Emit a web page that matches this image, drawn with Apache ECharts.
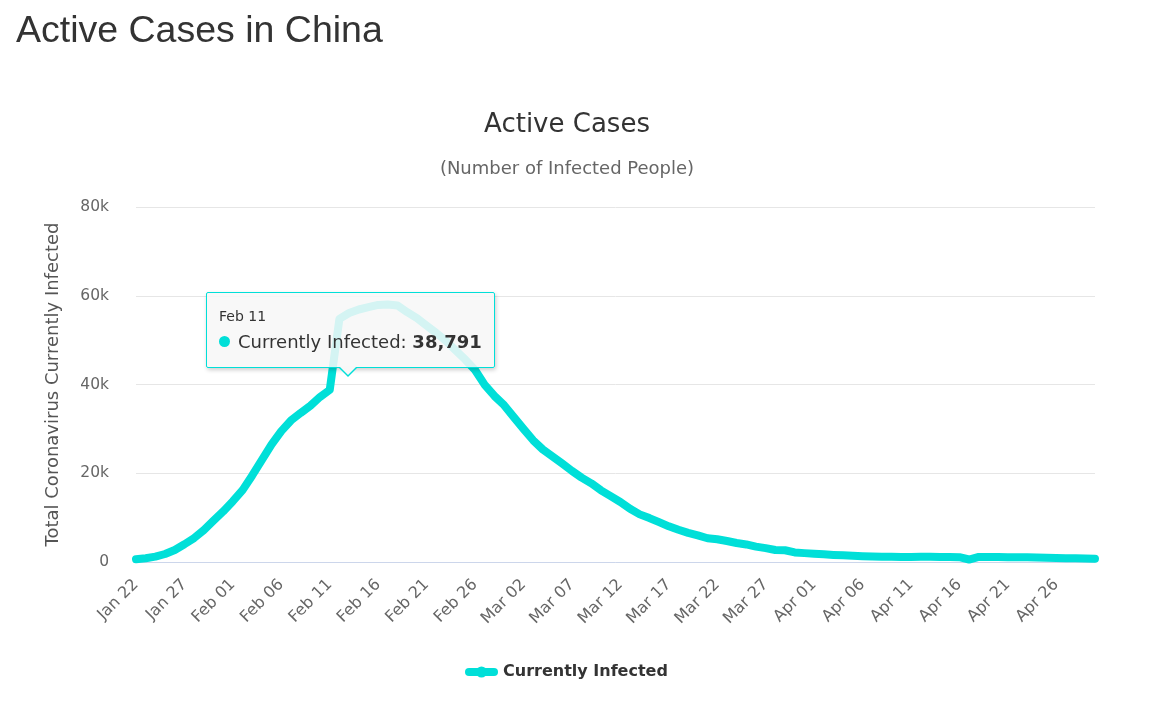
<!DOCTYPE html>
<html>
<head>
<meta charset="utf-8">
<title>Active Cases in China</title>
<script src="https://cdn.jsdelivr.net/npm/echarts@6/dist/echarts.min.js"></script>
<style>
    html, body { margin: 0; padding: 0; background: #fff; }
    #chart { width: 1164px; height: 701px; }
    .tip::before {
        content: '';
        position: absolute;
        left: 131px;
        bottom: -10px;
        border-left: 10px solid transparent;
        border-right: 10px solid transparent;
        border-top: 10px solid #00dfd8;
    }
    .tip::after {
        content: '';
        position: absolute;
        left: 132px;
        bottom: -8px;
        border-left: 9px solid transparent;
        border-right: 9px solid transparent;
        border-top: 9px solid #f7f7f7;
    }
</style>
</head>
<body>
<div id="chart"></div>
<script>
const dates = [
    'Jan 22', 'Jan 23', 'Jan 24', 'Jan 25', 'Jan 26', 'Jan 27', 'Jan 28', 'Jan 29', 'Jan 30', 'Jan 31',
    'Feb 01', 'Feb 02', 'Feb 03', 'Feb 04', 'Feb 05', 'Feb 06', 'Feb 07', 'Feb 08', 'Feb 09', 'Feb 10',
    'Feb 11', 'Feb 12', 'Feb 13', 'Feb 14', 'Feb 15', 'Feb 16', 'Feb 17', 'Feb 18', 'Feb 19', 'Feb 20',
    'Feb 21', 'Feb 22', 'Feb 23', 'Feb 24', 'Feb 25', 'Feb 26', 'Feb 27', 'Feb 28', 'Feb 29',
    'Mar 01', 'Mar 02', 'Mar 03', 'Mar 04', 'Mar 05', 'Mar 06', 'Mar 07', 'Mar 08', 'Mar 09', 'Mar 10',
    'Mar 11', 'Mar 12', 'Mar 13', 'Mar 14', 'Mar 15', 'Mar 16', 'Mar 17', 'Mar 18', 'Mar 19', 'Mar 20',
    'Mar 21', 'Mar 22', 'Mar 23', 'Mar 24', 'Mar 25', 'Mar 26', 'Mar 27', 'Mar 28', 'Mar 29', 'Mar 30', 'Mar 31',
    'Apr 01', 'Apr 02', 'Apr 03', 'Apr 04', 'Apr 05', 'Apr 06', 'Apr 07', 'Apr 08', 'Apr 09', 'Apr 10',
    'Apr 11', 'Apr 12', 'Apr 13', 'Apr 14', 'Apr 15', 'Apr 16', 'Apr 17', 'Apr 18', 'Apr 19', 'Apr 20',
    'Apr 21', 'Apr 22', 'Apr 23', 'Apr 24', 'Apr 25', 'Apr 26', 'Apr 27', 'Apr 28', 'Apr 29', 'Apr 30'
]

// currently infected, one value per day
const janActive = [600, 850, 1200, 1800, 2700, 4000, 5400, 7200, 9300, 11400]
const febActive = [
    13700, 16200, 19500, 23000, 26500, 29500, 31900, 33600, 35200, 37200,
    38791, 54800, 56100, 56900, 57420, 57930, 58020, 57810, 56300, 54970,
    53280, 51610, 49820, 47670, 45600, 43260, 39920, 37410, 35330
]
const marActive = [
    32650, 30000, 27430, 25350, 23780, 22180, 20530, 19020, 17720, 16150,
    14830, 13530, 11980, 10730, 9900, 8980, 8040, 7260, 6570, 6010,
    5350, 5120, 4740, 4290, 3950, 3460, 3130, 2700, 2650, 2160, 2000
]
const aprActive = [
    1860, 1730, 1600, 1500, 1400, 1300, 1240, 1190, 1160, 1130,
    1140, 1160, 1160, 1140, 1110, 1080, 560, 1130, 1120, 1100,
    1080, 1070, 1050, 1000, 960, 900, 860, 820, 790, 760
]
const active = [...janActive, ...febActive, ...marActive, ...aprActive]

const yTicks = [0, 20000, 40000, 60000, 80000]
const tipDay = 'Feb 11'

const lineColor = '#00dfd8'
const font = 'DejaVu Sans'

const chart = echarts.init(document.getElementById('chart'))

const option = {
    animation: false,
    title: [
        {
            text: 'Active Cases in China',
            left: 11,
            top: 8,
            textStyle: { fontFamily: 'Liberation Sans', fontSize: 37.5, fontWeight: 'normal', color: '#333' },
        },
        {
            text: 'Active Cases',
            subtext: '(Number of Infected People)',
            left: 562,
            top: 107,
            textAlign: 'center',
            itemGap: 22,
            textStyle: { fontFamily: font, fontSize: 26, fontWeight: 'normal', color: '#333' },
            subtextStyle: { fontFamily: font, fontSize: 18, color: '#666' },
        },
    ],
    legend: {
        bottom: 16,
        left: 460,
        itemWidth: 25,
        itemHeight: 14,
        lineStyle: { width: 8 },
        textStyle: { fontFamily: font, fontSize: 16, fontWeight: 'bold', color: '#333', padding: [0, 0, 0, 4] },
    },
    tooltip: {
        trigger: 'axis',
        axisPointer: { type: 'none' },
        triggerOn: 'none',
        alwaysShowContent: true,
        className: 'tip',
        backgroundColor: 'rgba(247,247,247,0.86)',
        borderColor: lineColor,
        borderWidth: 1,
        borderRadius: 2,
        padding: [12, 12, 10, 12],
        extraCssText: 'box-shadow: 1px 2px 4px rgba(0,0,0,0.2);',
        position: function () {
            return [206, 292]
        },
        formatter: function (params) {
            const p = params[0]
            return '<div style="font-family:DejaVu Sans;font-size:14px;color:#333;line-height:22px">' + p.name + '</div>'
                + '<div style="font-family:DejaVu Sans;font-size:18px;color:#333;line-height:30px">'
                + '<span style="display:inline-block;width:11px;height:11px;border-radius:50%;background:' + lineColor + ';margin-right:8px;vertical-align:1px"></span>'
                + 'Currently Infected: <b>' + p.value.toLocaleString('en-US') + '</b></div>'
        },
    },
    grid: {
        left: 136,
        right: 69,
        top: 207,
        bottom: 139,
    },
    xAxis: {
        type: 'category',
        boundaryGap: false,
        data: dates,
        axisLine: { lineStyle: { color: '#ccd6eb', width: 1 } },
        axisTick: { show: false },
        axisLabel: {
            rotate: 45,
            interval: 4,
            margin: 20,
            fontFamily: font,
            fontSize: 16,
            color: '#666',
        },
    },
    yAxis: {
        type: 'value',
        min: yTicks[0],
        max: yTicks[yTicks.length - 1],
        interval: yTicks[1] - yTicks[0],
        name: 'Total Coronavirus Currently Infected',
        nameLocation: 'middle',
        nameGap: 74,
        nameTextStyle: { fontFamily: font, fontSize: 18, color: '#555' },
        axisLine: { show: false },
        axisTick: { show: false },
        splitLine: { lineStyle: { color: '#e6e6e6' } },
        axisLabel: {
            margin: 27,
            fontFamily: font,
            fontSize: 15.5,
            color: '#666',
            formatter: v => v === 0 ? '0' : (v / 1000) + 'k',
        },
    },
    series: [
        {
            name: 'Currently Infected',
            type: 'line',
            data: active,
            symbol: 'circle',
            symbolSize: 1,
            showSymbol: false,
            color: lineColor,
            lineStyle: { width: 8, color: lineColor, cap: 'round', join: 'round' },
            emphasis: { disabled: true },
        },
    ],
}

chart.setOption(option)
chart.dispatchAction({
    type: 'showTip',
    seriesIndex: 0,
    dataIndex: dates.indexOf(tipDay),
})
</script>
</body>
</html>
